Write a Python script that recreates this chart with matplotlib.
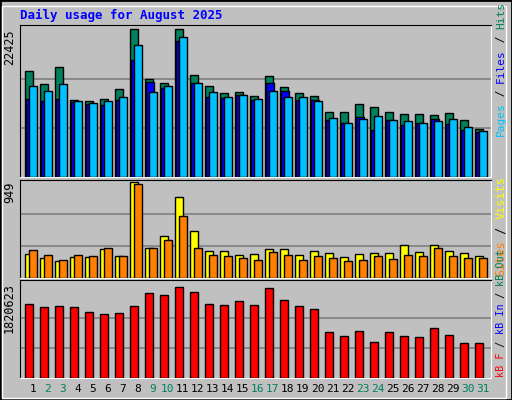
import matplotlib
matplotlib.use("Agg")
import matplotlib.pyplot as plt
from matplotlib.patches import Rectangle
import numpy as np

days = list(range(1, 32))
weekend = [2, 3, 9, 10, 16, 17, 23, 24, 30, 31]
hits = [16170, 14187, 16780, 11746, 11594, 11899, 13424, 22425, 14950, 14340, 22425, 15560, 13882, 12814, 12967, 12357,
        15408, 13730, 12814, 12357, 9916, 9916, 11136, 10679, 9916, 9611, 9611, 9458, 9763, 8695, 7322]
files = [11899, 11594, 11899, 11441, 11136, 10984, 11746, 17848, 14492, 13577, 20594, 14340, 12204, 12051, 12509, 11746,
         14340, 13119, 11746, 11746, 8695, 8238, 9153, 7170, 8695, 7933, 8238, 8848, 8085, 7170, 6865]
pages = [13882, 13119, 14187, 11594, 11289, 11594, 12204, 19984, 12967, 13882, 21204, 14340, 12967, 12204, 12509, 11899,
         13119, 12204, 12204, 11594, 9001, 8238, 8848, 9306, 8695, 8543, 8238, 8543, 8848, 7628, 7017]
visits = [237, 196, 165, 206, 206, 289, 217, 949, 299, 413, 804, 464, 268, 268, 227, 237,
          289, 289, 227, 268, 248, 206, 237, 248, 248, 330, 258, 330, 268, 248, 217]
sites = [278, 227, 175, 227, 217, 299, 217, 928, 299, 371, 609, 299, 227, 217, 196, 175,
         258, 227, 175, 217, 196, 165, 175, 217, 186, 227, 217, 299, 217, 196, 196]
kbf = [1480500, 1420500, 1440500, 1420500, 1320500, 1280400, 1300500, 1440500, 1700600, 1660600, 1820623, 1720600,
       1480500, 1460500, 1540500, 1460500, 1800600, 1560500, 1440500, 1380500, 920300, 840300, 940300, 720300,
       920300, 840300, 820300, 1000400, 860300, 700200, 700200]

W, H = 512, 400
BG = "#c0c0c0"
fig = plt.figure(figsize=(W / 100, H / 100), dpi=100, facecolor=BG)
mono = "DejaVu Sans Mono"

fig.patches.append(Rectangle((0, 0), 1, 1, transform=fig.transFigure, fill=False, ec="black", lw=2))
fig.patches.append(Rectangle((2 / W, 2 / H), 1 - 8 / W, 1 - 8 / H, transform=fig.transFigure, fill=False, ec="white", lw=1))

def panel(y0, y1):
    ax = fig.add_axes([20 / W, 1 - y1 / H, (491 - 20) / W, (y1 - y0) / H])
    ax.set_facecolor(BG)
    ax.set_xlim(0.267, 31.67)
    for s in ["left", "top"]:
        ax.spines[s].set_color("black")
    for s in ["right", "bottom"]:
        ax.spines[s].set_color("white")
    ax.set_xticks([])
    ax.set_yticks([])
    return ax

x = np.array(days, dtype=float)
wd = 0.5
kw = dict(edgecolor="black", linewidth=1, zorder=3)

ax1 = panel(25, 177)
m1 = max(hits)
ax1.set_ylim(0, m1 * 1.03)
for g in (m1 / 3, 2 * m1 / 3):
    ax1.axhline(g, color="#808080", lw=1.2, zorder=1)
ax1.bar(x - 0.13, hits, wd, color="#00805c", **kw)
ax1.bar(x - 0.06, files, wd, color="#0000ff", **kw)
ax1.bar(x + 0.13, pages, wd, color="#00c0ff", **kw)

ax2 = panel(180, 278)
m2 = max(visits)
ax2.set_ylim(0, m2 * 1.02)
for g in (m2 / 3, 2 * m2 / 3):
    ax2.axhline(g, color="#808080", lw=1.2, zorder=1)
ax2.bar(x - 0.13, visits, wd, color="#ffff00", **kw)
ax2.bar(x + 0.13, sites, wd, color="#ff8000", **kw)

ax3 = panel(280, 378)
m3 = max(kbf)
ax3.set_ylim(0, m3 * 1.08)
for g in (m3 / 3, 2 * m3 / 3):
    ax3.axhline(g, color="#808080", lw=1.2, zorder=1)
ax3.bar(x - 0.13, kbf, wd, color="#ff0000", **kw)

fig.text(16 / W, 1 - 29 / H, f"{m1}", rotation=90, ha="right", va="top", family=mono, fontsize=8.5)
fig.text(16 / W, 1 - 182 / H, f"{m2}", rotation=90, ha="right", va="top", family=mono, fontsize=8.5)
fig.text(16 / W, 1 - 283 / H, f"{m3}", rotation=90, ha="right", va="top", family=mono, fontsize=8.5)

fig.text(20 / W, 1 - 15 / H, "Daily usage for August 2025", color="#0000ff", family=mono,
         fontweight="bold", fontsize=9, va="center")

def legend(parts, ybottom, fs):
    step = 0.6 * fs * 100 / 72
    y = ybottom
    for txt, col in parts:
        fig.text(501 / W, y / H, txt, rotation=90, color=col, family=mono, fontsize=fs,
                 ha="center", va="bottom")
        y += len(txt) * step
legend([("Pages", "#00c0ff"), (" / ", "black"), ("Files", "#0000ff"), (" / ", "black"), ("Hits", "#00805c")], 400 - 136, 8)
legend([("Sites", "#ff8000"), (" / ", "black"), ("Visits", "#ffff00")], 400 - 276, 8.5)
legend([("kB F", "#ff0000"), (" / ", "black"), ("kB In", "#0000ff"), (" / ", "black"), ("kB Out", "#00805c")], 400 - 377, 7.3)

for d in days:
    col = "#00805c" if d in weekend else "black"
    xp = 20 + (d + 0.13 - 0.267) / (31.67 - 0.267) * 471
    fig.text(xp / W, 1 - 389 / H, str(d), color=col, family=mono, fontsize=8, ha="center", va="center")

fig.savefig("out.png", dpi=100, facecolor=BG)
